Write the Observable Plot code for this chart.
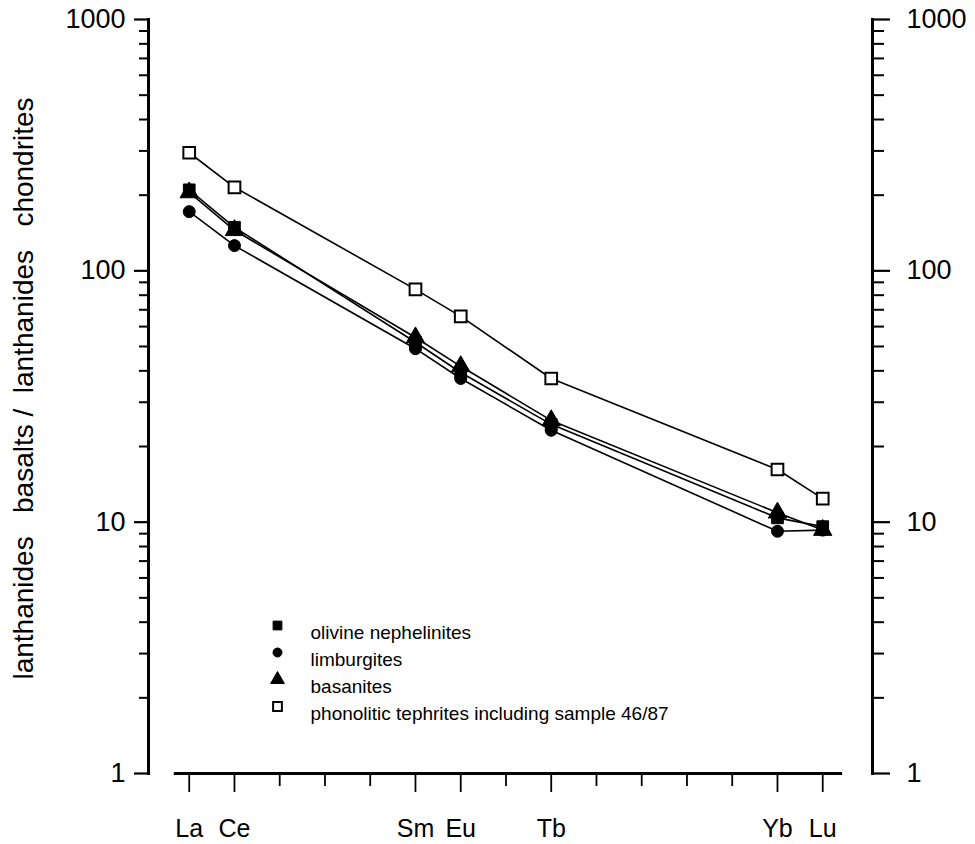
<!DOCTYPE html>
<html>
<head>
<meta charset="utf-8">
<script src="https://cdn.jsdelivr.net/npm/d3@7"></script>
<script src="https://cdn.jsdelivr.net/npm/@observablehq/plot@0.6"></script>
<style>
  html, body { margin: 0; padding: 0; background: #fff; }
  #chart svg { display: block; }
</style>
</head>
<body>
<div id="chart"></div>
<script>
// ---- data ----
const elements = ["La","Ce","Pr","Nd","Pm","Sm","Eu","Gd","Tb","Dy","Ho","Er","Tm","Yb","Lu"];
const labeledElements = ["La","Ce","Sm","Eu","Tb","Yb","Lu"];
const analysedElements = ["La","Ce","Sm","Eu","Tb","Yb","Lu"];
const olivineNephelinites = [210, 149, 52, 39.4, 24.5, 10.4, 9.6];
const limburgites        = [172, 126, 49, 37.3, 23.2, 9.2, 9.3];
const basanites          = [205, 145, 54.3, 41.7, 25.4, 10.9, 9.3];
const phonoliticTephrites= [295, 215, 84.4, 65.9, 37.3, 16.2, 12.4];
const seriesNames = [
  "olivine nephelinites",
  "limburgites",
  "basanites",
  "phonolitic tephrites including sample 46/87"
];
const yMajorTicks = [1, 10, 100, 1000];
const yMinorTicks = [2,3,4,5,6,7,8,9,20,30,40,50,60,70,80,90,200,300,400,500,600,700,800,900];
const yLabel = "lanthanides\u00a0\u00a0\u00a0basalts\u00a0/\u00a0\u00a0lanthanides\u00a0\u00a0\u00a0chondrites";

// ---- build table ----
const seriesValues = [olivineNephelinites, limburgites, basanites, phonoliticTephrites];
const rows = [];
seriesValues.forEach((vals, s) => {
  analysedElements.forEach((el, i) => {
    rows.push({series: seriesNames[s], element: el, idx: elements.indexOf(el), value: vals[i]});
  });
});
const bySeries = name => rows.filter(d => d.series === name);

const labeledIdx = labeledElements.map(e => elements.indexOf(e));
const unlabeledIdx = elements.map((e, i) => i).filter(i => !labeledIdx.includes(i));

// styles per series
const styles = [
  {symbol: "square",   fill: "black", stroke: "black", r: 6.6},
  {symbol: "circle",   fill: "black", stroke: "black", r: 6},
  {symbol: "triangle", fill: "black", stroke: "black", r: 6.8},
  {symbol: "square",   fill: "white", stroke: "black", r: 6.6}
];

const font = "'Liberation Sans', Arial, Helvetica, sans-serif";

// legend layout (pixels relative to frame top-left)
const legendMarkerDx = 129, legendTextDx = 162, legendTopDy = 606, legendStep = 27;

const marks = [
  // axes frame lines
  Plot.frame({anchor: "left", strokeWidth: 3}),
  Plot.frame({anchor: "right", strokeWidth: 3}),
  // y ticks left
  Plot.axisY(yMajorTicks, {anchor: "left", label: null, tickSize: 14, tickPadding: 9, fontSize: 27, strokeWidth: 2.2, tickFormat: d => String(d)}),
  Plot.axisY(yMinorTicks, {anchor: "left", label: null, tickSize: 9, strokeWidth: 2, tickFormat: () => ""}),
  // y ticks right
  Plot.axisY(yMajorTicks, {anchor: "right", label: null, tickSize: 17, tickPadding: 17, fontSize: 27, strokeWidth: 2.2, tickFormat: d => String(d)}),
  Plot.axisY(yMinorTicks, {anchor: "right", label: null, tickSize: 11, strokeWidth: 2, tickFormat: () => ""}),
  // x axis line
  Plot.ruleY([1], {x1: -0.33, x2: 14.44, strokeWidth: 3}),
  // x ticks
  Plot.axisX(labeledIdx, {anchor: "bottom", label: null, tickSize: 19, tickPadding: 27, fontSize: 25, strokeWidth: 1.8, tickFormat: i => elements[i]}),
  Plot.axisX(unlabeledIdx, {anchor: "bottom", label: null, tickSize: 13, strokeWidth: 1.8, tickFormat: () => ""}),
  // y axis title
  Plot.text({length: 1}, {frameAnchor: "left", dx: -124, dy: -8, rotate: -90, text: [yLabel], fontSize: 28, textAnchor: "middle"}),
  // lines
  Plot.line(rows, {x: "idx", y: "value", z: "series", stroke: "black", strokeWidth: 1.6})
];

// markers: draw in order triangles, circles, squares, open squares
[2, 1, 0, 3].forEach(s => {
  const st = styles[s];
  marks.push(Plot.dot(bySeries(seriesNames[s]), {
    x: "idx", y: "value", symbol: st.symbol, fill: st.fill, stroke: st.stroke,
    r: st.r, strokeWidth: s === 3 ? 2 : 1
  }));
});

// legend
seriesNames.forEach((name, s) => {
  const st = styles[s];
  marks.push(Plot.dot({length: 1}, {
    frameAnchor: "top-left", dx: legendMarkerDx, dy: legendTopDy + s * legendStep,
    symbol: st.symbol, fill: st.fill, stroke: st.stroke, r: st.r * 0.75, strokeWidth: s === 3 ? 2 : 1
  }));
  marks.push(Plot.text({length: 1}, {
    frameAnchor: "top-left", dx: legendTextDx, dy: legendTopDy + s * legendStep,
    text: [name], textAnchor: "start", fontSize: 19
  }));
});

const chart = Plot.plot({
  width: 975,
  height: 844,
  marginLeft: 148,
  marginRight: 103,
  marginTop: 19,
  marginBottom: 71,
  x: {type: "linear", domain: [-0.9, 15.1], axis: null, label: null},
  y: {type: "log", domain: [1, 1000], axis: null, label: null},
  style: {fontFamily: font, background: "white", color: "black", overflow: "visible"},
  marks
});
document.getElementById("chart").append(chart);
</script>
</body>
</html>
